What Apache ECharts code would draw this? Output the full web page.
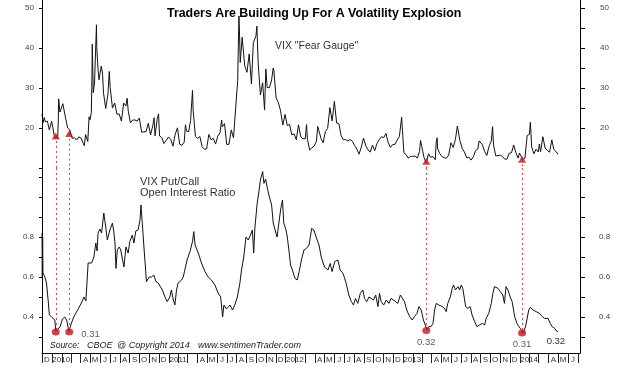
<!DOCTYPE html>
<html><head><meta charset="utf-8">
<script src="https://cdn.jsdelivr.net/npm/echarts@6/dist/echarts.min.js"></script>
<style>html,body{margin:0;padding:0;background:#fff}#c{width:633px;height:370px}</style>
</head><body><div id="c"></div>
<script>
// ---------- DATA ----------
const vixDates = [
'2009-12-01','2009-12-04','2009-12-08','2009-12-11','2009-12-15','2009-12-18','2009-12-24','2009-12-31',
'2010-01-04','2010-01-08','2010-01-11','2010-01-15','2010-01-19','2010-01-21','2010-01-22','2010-01-26','2010-01-29',
'2010-02-04','2010-02-05','2010-02-12','2010-02-19','2010-02-24','2010-02-26',
'2010-03-05','2010-03-12','2010-03-19','2010-03-26',
'2010-04-02','2010-04-09','2010-04-12','2010-04-16','2010-04-23','2010-04-27','2010-04-30',
'2010-05-04','2010-05-06','2010-05-07','2010-05-10','2010-05-14','2010-05-18','2010-05-20','2010-05-21','2010-05-25','2010-05-28',
'2010-06-04','2010-06-08','2010-06-11','2010-06-18','2010-06-25','2010-06-29',
'2010-07-02','2010-07-09','2010-07-16','2010-07-23','2010-07-30',
'2010-08-06','2010-08-13','2010-08-20','2010-08-24','2010-08-27',
'2010-09-03','2010-09-10','2010-09-17','2010-09-24',
'2010-10-01','2010-10-08','2010-10-15','2010-10-22','2010-10-29',
'2010-11-05','2010-11-12','2010-11-16','2010-11-19','2010-11-26','2010-11-30',
'2010-12-03','2010-12-10','2010-12-17','2010-12-23','2010-12-31',
'2011-01-07','2011-01-14','2011-01-21','2011-01-28',
'2011-02-04','2011-02-11','2011-02-18','2011-02-22','2011-02-25',
'2011-03-04','2011-03-10','2011-03-16','2011-03-18','2011-03-25',
'2011-04-01','2011-04-08','2011-04-15','2011-04-22','2011-04-29',
'2011-05-06','2011-05-13','2011-05-20','2011-05-27',
'2011-06-03','2011-06-10','2011-06-15','2011-06-17','2011-06-24','2011-06-29',
'2011-07-01','2011-07-08','2011-07-15','2011-07-22','2011-07-29',
'2011-08-04','2011-08-05','2011-08-08','2011-08-10','2011-08-12','2011-08-18','2011-08-19','2011-08-26',
'2011-09-02','2011-09-09','2011-09-16','2011-09-22','2011-09-23','2011-09-30',
'2011-10-03','2011-10-07','2011-10-14','2011-10-21','2011-10-27','2011-10-31',
'2011-11-04','2011-11-11','2011-11-18','2011-11-23','2011-11-25',
'2011-12-02','2011-12-09','2011-12-16','2011-12-23','2011-12-30',
'2012-01-06','2012-01-13','2012-01-20','2012-01-27',
'2012-02-03','2012-02-10','2012-02-17','2012-02-24',
'2012-03-02','2012-03-06','2012-03-09','2012-03-16','2012-03-23','2012-03-30',
'2012-04-06','2012-04-10','2012-04-13','2012-04-20','2012-04-27',
'2012-05-04','2012-05-11','2012-05-18','2012-05-25',
'2012-06-01','2012-06-08','2012-06-15','2012-06-22','2012-06-29',
'2012-07-06','2012-07-13','2012-07-20','2012-07-27',
'2012-08-03','2012-08-10','2012-08-17','2012-08-24','2012-08-31',
'2012-09-07','2012-09-14','2012-09-21','2012-09-28',
'2012-10-05','2012-10-12','2012-10-19','2012-10-26',
'2012-11-02','2012-11-09','2012-11-16','2012-11-23','2012-11-30',
'2012-12-07','2012-12-14','2012-12-21','2012-12-28',
'2013-01-04','2013-01-11','2013-01-18','2013-01-25',
'2013-02-01','2013-02-08','2013-02-15','2013-02-22','2013-02-25',
'2013-03-01','2013-03-08','2013-03-15','2013-03-22','2013-03-28',
'2013-04-05','2013-04-12','2013-04-15','2013-04-18','2013-04-19','2013-04-26',
'2013-05-03','2013-05-10','2013-05-17','2013-05-24','2013-05-31',
'2013-06-07','2013-06-14','2013-06-20','2013-06-24','2013-06-28',
'2013-07-05','2013-07-12','2013-07-19','2013-07-26',
'2013-08-02','2013-08-09','2013-08-16','2013-08-23','2013-08-27','2013-08-30',
'2013-09-06','2013-09-13','2013-09-20','2013-09-27',
'2013-10-04','2013-10-08','2013-10-11','2013-10-18','2013-10-25',
'2013-11-01','2013-11-08','2013-11-15','2013-11-22','2013-11-29',
'2013-12-06','2013-12-13','2013-12-20','2013-12-27','2013-12-31',
'2014-01-03','2014-01-10','2014-01-17','2014-01-24','2014-01-31',
'2014-02-03','2014-02-07','2014-02-14','2014-02-21','2014-02-28',
'2014-03-03','2014-03-07','2014-03-14','2014-03-21','2014-03-28',
'2014-04-04','2014-04-11','2014-04-17','2014-04-25','2014-04-30'
];
const vixValues = [
23.5,21.25,22.6,21.59,21.5,21.68,19.47,21.68,
20.04,18.13,17.55,17.91,17.58,22.27,27.31,24.0,24.62,
26.08,26.11,22.73,20.02,19.6,19.5,
17.42,17.58,16.97,17.77,
17.47,16.14,15.58,18.36,16.62,22.81,22.05,
23.84,32.8,40.95,28.84,31.24,31.3,45.79,40.1,34.61,32.07,
35.48,33.7,28.79,24.88,28.53,34.13,
30.12,24.98,26.25,23.47,23.5,
21.74,26.24,25.49,27.46,24.45,
21.31,21.99,22.01,21.71,
22.5,18.96,19.03,19.08,21.2,
18.26,20.61,22.58,18.04,22.4,23.54,
18.01,17.61,16.11,16.47,17.75,
17.14,15.46,18.47,20.04,
15.93,15.69,16.43,20.8,19.22,
19.06,21.88,29.4,24.44,17.91,
17.4,17.87,15.32,14.69,14.75,
18.4,17.07,17.43,15.98,
17.95,18.86,22.0,20.3,21.1,17.27,
15.87,15.95,19.53,17.52,25.25,
31.66,32.0,48.0,42.99,36.36,42.67,43.05,35.59,
33.92,38.52,30.98,41.35,41.25,42.96,
45.45,36.27,28.24,31.32,24.53,34.77,
30.16,30.04,32.0,35.0,34.47,
27.52,26.38,24.29,20.73,23.4,
20.63,20.91,18.28,18.53,
17.1,20.79,17.78,17.31,
17.29,20.87,17.11,14.47,15.11,15.5,
16.7,20.39,19.55,17.44,16.32,
19.16,19.89,25.1,21.76,
26.66,21.23,21.11,18.11,17.08,
17.1,16.74,17.11,16.7,
15.64,14.74,13.45,15.18,17.47,
15.6,14.51,13.98,15.73,
14.33,16.14,17.06,17.81,
17.59,18.61,16.41,15.14,15.87,
15.9,17.0,17.84,22.72,
13.83,13.36,12.46,12.89,
12.9,13.02,12.46,14.17,16.87,
15.36,12.59,11.3,13.57,12.7,
12.85,12.06,16.51,17.56,14.97,13.61,
12.85,12.59,12.45,13.25,16.3,
15.14,17.15,20.49,20.11,16.86,
14.89,14.01,12.54,12.72,
11.98,12.81,14.37,14.76,16.77,17.01,
15.85,14.16,13.12,15.46,
16.74,20.34,15.72,13.04,13.09,
13.19,12.9,12.19,12.26,13.7,
13.79,15.76,13.79,12.46,13.72,
13.76,12.14,12.44,18.14,18.41,
21.44,15.29,13.57,14.68,14.0,
16.0,14.11,17.82,15.0,14.41,
13.96,17.03,14.65,14.06,13.41
];

const ratioDates = [
'2009-12-01','2009-12-02','2009-12-03','2009-12-04','2009-12-07','2009-12-10','2009-12-15','2009-12-21','2009-12-24','2009-12-31',
'2010-01-10','2010-01-13','2010-01-17','2010-01-26','2010-02-03','2010-02-10','2010-02-16','2010-02-23',
'2010-03-03','2010-03-10','2010-03-24','2010-04-03','2010-04-11','2010-04-17','2010-04-21','2010-04-24',
'2010-05-05','2010-05-12','2010-05-18','2010-05-22','2010-05-25','2010-05-31','2010-06-05','2010-06-12','2010-06-18','2010-06-23',
'2010-07-01','2010-07-09','2010-07-13','2010-07-17','2010-07-20','2010-07-24','2010-07-30',
'2010-08-04','2010-08-09','2010-08-14','2010-08-20','2010-08-27',
'2010-09-01','2010-09-09','2010-09-14','2010-09-20','2010-09-27',
'2010-10-03','2010-10-06','2010-10-11','2010-10-16','2010-10-20','2010-10-23',
'2010-11-01','2010-11-08','2010-11-15','2010-11-22','2010-11-29',
'2010-12-06','2010-12-12','2010-12-20','2010-12-27',
'2011-01-04','2011-01-09','2011-01-15','2011-01-20','2011-01-25','2011-01-30',
'2011-02-10','2011-02-15','2011-02-20','2011-02-27',
'2011-03-08','2011-03-16','2011-03-20','2011-03-24',
'2011-04-03','2011-04-13','2011-04-24','2011-05-04','2011-05-14','2011-05-25',
'2011-06-04','2011-06-12','2011-06-18','2011-06-22','2011-06-30',
'2011-07-11','2011-07-19','2011-07-26','2011-08-03','2011-08-11','2011-08-16','2011-08-23','2011-08-30',
'2011-09-06','2011-09-13','2011-09-19','2011-09-23','2011-09-27',
'2011-10-04','2011-10-10','2011-10-14','2011-10-21','2011-10-25','2011-10-30',
'2011-11-04','2011-11-11','2011-11-18','2011-11-23','2011-11-28',
'2011-12-05','2011-12-12','2011-12-16','2011-12-22','2011-12-26',
'2012-01-02','2012-01-06','2012-01-12','2012-01-16','2012-01-22','2012-01-30',
'2012-02-06','2012-02-12','2012-02-19','2012-02-27',
'2012-03-06','2012-03-14','2012-03-22','2012-03-29',
'2012-04-07','2012-04-14','2012-04-21','2012-05-01','2012-05-12','2012-05-19','2012-05-25',
'2012-06-02','2012-06-12','2012-06-19','2012-06-28',
'2012-07-08','2012-07-16','2012-07-24','2012-07-31',
'2012-08-06','2012-08-13','2012-08-21','2012-08-29',
'2012-09-03','2012-09-10','2012-09-17','2012-09-24',
'2012-10-01','2012-10-08','2012-10-15','2012-10-20','2012-10-25',
'2012-11-02','2012-11-10','2012-11-18','2012-11-25',
'2012-12-01','2012-12-09','2012-12-16','2012-12-24','2012-12-30',
'2013-01-06','2013-01-13','2013-01-22','2013-01-30',
'2013-02-06','2013-02-14','2013-02-20','2013-02-27',
'2013-03-06','2013-03-13','2013-03-17','2013-03-23','2013-03-30',
'2013-04-05','2013-04-10','2013-04-15','2013-04-23',
'2013-05-04','2013-05-11','2013-05-16','2013-05-21','2013-05-29',
'2013-06-04','2013-06-08','2013-06-14','2013-06-22','2013-06-27',
'2013-07-02','2013-07-07','2013-07-16','2013-07-23','2013-07-30',
'2013-08-05','2013-08-13','2013-08-20','2013-08-28',
'2013-09-06','2013-09-13','2013-09-18','2013-09-26',
'2013-10-04','2013-10-09','2013-10-14','2013-10-25',
'2013-11-01','2013-11-09','2013-11-14','2013-11-19','2013-11-25',
'2013-12-02','2013-12-08','2013-12-16','2013-12-23','2013-12-29',
'2014-01-05','2014-01-11','2014-01-19','2014-01-23','2014-01-29',
'2014-02-03','2014-02-11','2014-02-21',
'2014-03-04','2014-03-12','2014-03-19','2014-03-30',
'2014-04-06','2014-04-12','2014-04-20','2014-04-27','2014-04-30'
];
const ratioValues = [
0.82,0.60,0.80,0.62,0.61,0.60,0.57,0.47,0.41,0.40,
0.385,0.33,0.335,0.35,0.39,0.40,0.385,0.327,
0.37,0.40,0.44,0.47,0.50,0.48,0.585,0.67,
0.67,0.70,0.77,0.73,0.82,0.84,0.82,0.92,0.85,0.785,
0.835,0.87,0.83,0.77,0.643,0.735,0.75,
0.735,0.69,0.65,0.75,0.72,
0.777,0.81,0.77,0.83,0.835,
0.885,0.96,0.85,0.735,0.65,0.577,
0.60,0.60,0.61,0.577,0.57,
0.55,0.535,0.50,0.477,
0.50,0.535,0.485,0.46,0.535,0.57,
0.585,0.60,0.635,0.685,
0.727,0.777,0.827,0.76,
0.72,0.67,0.627,0.60,0.585,0.56,
0.52,0.50,0.40,0.46,0.44,
0.46,0.435,0.46,0.50,0.57,0.635,0.70,0.80,
0.785,0.81,0.835,0.72,0.85,
0.97,1.035,1.085,1.127,1.068,1.09,
1.05,1.00,0.96,0.87,0.84,
0.80,0.885,0.935,0.985,0.87,
0.835,0.80,0.72,0.66,0.635,0.593,
0.585,0.627,0.685,0.735,
0.743,0.76,0.843,0.835,
0.79,0.76,0.70,0.65,0.635,0.668,0.627,
0.677,0.685,0.635,0.618,
0.568,0.51,0.477,0.46,
0.493,0.468,0.518,0.535,
0.493,0.477,0.50,0.493,
0.485,0.51,0.452,0.518,0.477,
0.46,0.485,0.468,0.493,
0.50,0.477,0.468,0.51,0.518,
0.477,0.435,0.402,0.385,
0.402,0.418,0.452,0.435,
0.385,0.355,0.335,0.352,0.352,
0.368,0.435,0.468,0.46,
0.452,0.443,0.427,0.468,0.50,
0.543,0.56,0.535,0.552,0.535,
0.56,0.543,0.452,0.443,0.452,
0.41,0.377,0.352,0.36,
0.368,0.36,0.393,0.418,
0.468,0.518,0.552,0.543,
0.527,0.51,0.468,0.552,0.535,
0.50,0.477,0.402,0.368,0.352,
0.338,0.318,0.352,0.385,0.435,
0.448,0.435,0.427,
0.418,0.402,0.393,0.393,
0.368,0.352,0.343,0.327,0.327
];

// signal points (triangles on VIX, circles on ratio)
const signalDates  = ['2010-01-13','2010-02-24','2013-03-15','2014-01-08'];
const signalVix    = [18.0, 18.6, 11.7, 12.2];
const signalRatio  = [0.325, 0.325, 0.333, 0.32];
const signalLabels = ['', '0.31', '0.32', '0.31'];
const lastLabel = '0.32';

// axis ticks / labels
const vixTicksLeft  = [10, 20, 30, 40, 50];
const vixTicksRight = [10, 15, 20, 25, 30, 35, 40, 45, 50];
const vixLabels     = [20, 30, 40, 50];
const ratioTicks    = [0.3, 0.4, 0.5, 0.6, 0.7, 0.8, 0.9, 1.0, 1.1];
const ratioLabels   = [0.4, 0.6, 0.8];
const monthLetters  = ['J','F','M','A','M','J','J','A','S','O','N','D'];

// ---------- BUILD ----------
const T = s => { const p = s.split('-').map(Number); return new Date(p[0], p[1]-1, p[2]).getTime(); };
const xMin = T('2009-12-01'), xMax = T('2014-07-08');
const vMin = 10, vMax = 52, rMin = 0.22, rMax = 1.145;

const monthTicks = [], monthLabelVals = [], monthLabelText = {};
for (let y = 2009, m = 11; y < 2014 || (y === 2014 && m <= 6); ) {
  monthTicks.push(new Date(y, m, 1).getTime());
  if (!(y === 2014 && m === 6)) {
    if (m === 0) { const t = new Date(y, 0, 30).getTime(); monthLabelVals.push(t); monthLabelText[t] = String(y); }
    else if (m !== 1 && m !== 2) { const t = new Date(y, m, 16).getTime(); monthLabelVals.push(t); monthLabelText[t] = monthLetters[m]; }
  }
  m++; if (m > 11) { m = 0; y++; }
}

const vixData = vixDates.map((d, i) => [T(d), vixValues[i]]);
const ratioData = ratioDates.map((d, i) => [T(d), ratioValues[i]]);
const red = '#c8141e';
const dashRed = '#d84a4a';
const FONT = 'Liberation Sans, Arial, sans-serif';

const yAxisCommon = (grid, pos, ticks, labels, margin, tickLen, fmt, mn, mx) => ({
  type: 'value', gridIndex: grid, position: pos, min: mn, max: mx,
  axisLine: { show: true, lineStyle: { color: '#000', width: 1 } },
  axisTick: { show: true, length: tickLen, customValues: ticks, lineStyle: { color: '#000' } },
  axisLabel: { show: true, customValues: labels, margin: margin, fontSize: 8, color: '#444', fontFamily: FONT, formatter: fmt },
  splitLine: { show: false }
});

const chart = echarts.init(document.getElementById('c'), null, { renderer: 'canvas' });
chart.setOption({
  animation: false,
  backgroundColor: '#fff',
  title: {
    text: 'Traders Are Building Up For A Volatility Explosion',
    left: 162, top: 3,
    textStyle: { fontSize: 12.4, fontWeight: 'bold', color: '#000', fontFamily: FONT }
  },
  grid: [
    { left: 42, right: 53, top: 0, height: 168 },
    { left: 42, right: 53, top: 168, height: 185 }
  ],
  xAxis: [
    { type: 'value', gridIndex: 0, min: xMin, max: xMax, show: false, scale: true },
    { type: 'value', gridIndex: 1, min: xMin, max: xMax, scale: true,
      axisLine: { show: true, onZero: false, lineStyle: { color: '#000', width: 1 } },
      axisTick: { show: true, length: 10, customValues: monthTicks, lineStyle: { color: '#222' } },
      axisLabel: { show: true, customValues: monthLabelVals, margin: 3, fontSize: 8, color: '#333', fontFamily: FONT,
        hideOverlap: false, formatter: v => monthLabelText[v] || '' },
      splitLine: { show: false } }
  ],
  yAxis: [
    yAxisCommon(0, 'left', vixTicksLeft, vixLabels, 8, 3, v => String(v), vMin, vMax),
    yAxisCommon(0, 'right', vixTicksRight, vixLabels, 20, 5, v => String(v), vMin, vMax),
    yAxisCommon(1, 'left', ratioTicks, ratioLabels, 8, 3, v => v.toFixed(1), rMin, rMax),
    yAxisCommon(1, 'right', ratioTicks, ratioLabels, 19, 5, v => v.toFixed(1), rMin, rMax)
  ],
  graphic: [
    { type: 'text', left: 275, top: 41, style: { text: 'VIX "Fear Gauge"', font: '10.5px ' + FONT, fill: '#333' } },
    { type: 'text', left: 140, top: 176, style: { text: 'VIX Put/Call', font: '11px ' + FONT, fill: '#333' } },
    { type: 'text', left: 140, top: 187, style: { text: 'Open Interest Ratio', font: '11px ' + FONT, fill: '#333' } },
    { type: 'text', left: 50, top: 341, style: { text: 'Source:', font: 'italic 8.5px ' + FONT, fill: '#222' } },
    { type: 'text', left: 87, top: 341, style: { text: 'CBOE', font: 'italic 9px ' + FONT, fill: '#222' } },
    { type: 'text', left: 117, top: 341, style: { text: '@ Copyright 2014', font: 'italic 9px ' + FONT, fill: '#222' } },
    { type: 'text', left: 198, top: 341, style: { text: 'www.sentimenTrader.com', font: 'italic 9px ' + FONT, fill: '#222' } }
  ],
  series: [
    { type: 'line', name: 'VIX', xAxisIndex: 0, yAxisIndex: 0, data: vixData, symbol: 'none',
      lineStyle: { color: '#111', width: 1 }, z: 3 },
    { type: 'line', name: 'VIX Put/Call OI', xAxisIndex: 1, yAxisIndex: 2, data: ratioData, symbol: 'none',
      lineStyle: { color: '#111', width: 1 }, z: 3,
      markPoint: { silent: true, symbol: 'circle', symbolSize: 1, itemStyle: { color: 'rgba(0,0,0,0)' },
        data: [{ coord: ratioData[ratioData.length - 1],
          label: { show: true, formatter: lastLabel, position: 'bottom', distance: 4, offset: [-2, 0],
            fontSize: 9.5, color: '#333', fontFamily: FONT } }] } },
    { type: 'scatter', name: 'VIX lows', xAxisIndex: 0, yAxisIndex: 0, symbol: 'triangle', symbolSize: [8, 7],
      itemStyle: { color: red }, z: 5,
      data: signalDates.map((d, i) => [T(d), signalVix[i]]),
      markLine: { silent: true, symbol: ['none', 'none'], label: { show: false },
        lineStyle: { color: dashRed, type: [2, 3], width: 1 },
        data: signalDates.map((d, i) => [{ coord: [T(d), signalVix[i]] }, { coord: [T(d), vMin] }]) } },
    { type: 'scatter', name: 'Ratio lows', xAxisIndex: 1, yAxisIndex: 2, symbol: 'circle', symbolSize: [8, 7],
      itemStyle: { color: red }, z: 5,
      data: signalDates.map((d, i) => ({
        value: [T(d), signalRatio[i]],
        label: { show: signalLabels[i] !== '', formatter: signalLabels[i],
          position: i === 1 ? 'right' : 'bottom', distance: i === 1 ? 8 : 3, offset: i === 1 ? [0, 2] : [0, 0],
          fontSize: 9.5, color: '#333', fontFamily: FONT }
      })),
      markLine: { silent: true, symbol: ['none', 'none'], label: { show: false },
        lineStyle: { color: dashRed, type: [2, 3], width: 1 },
        data: signalDates.map((d, i) => [{ coord: [T(d), rMax] }, { coord: [T(d), signalRatio[i]] }]) } }
  ]
});
</script>
</body></html>
